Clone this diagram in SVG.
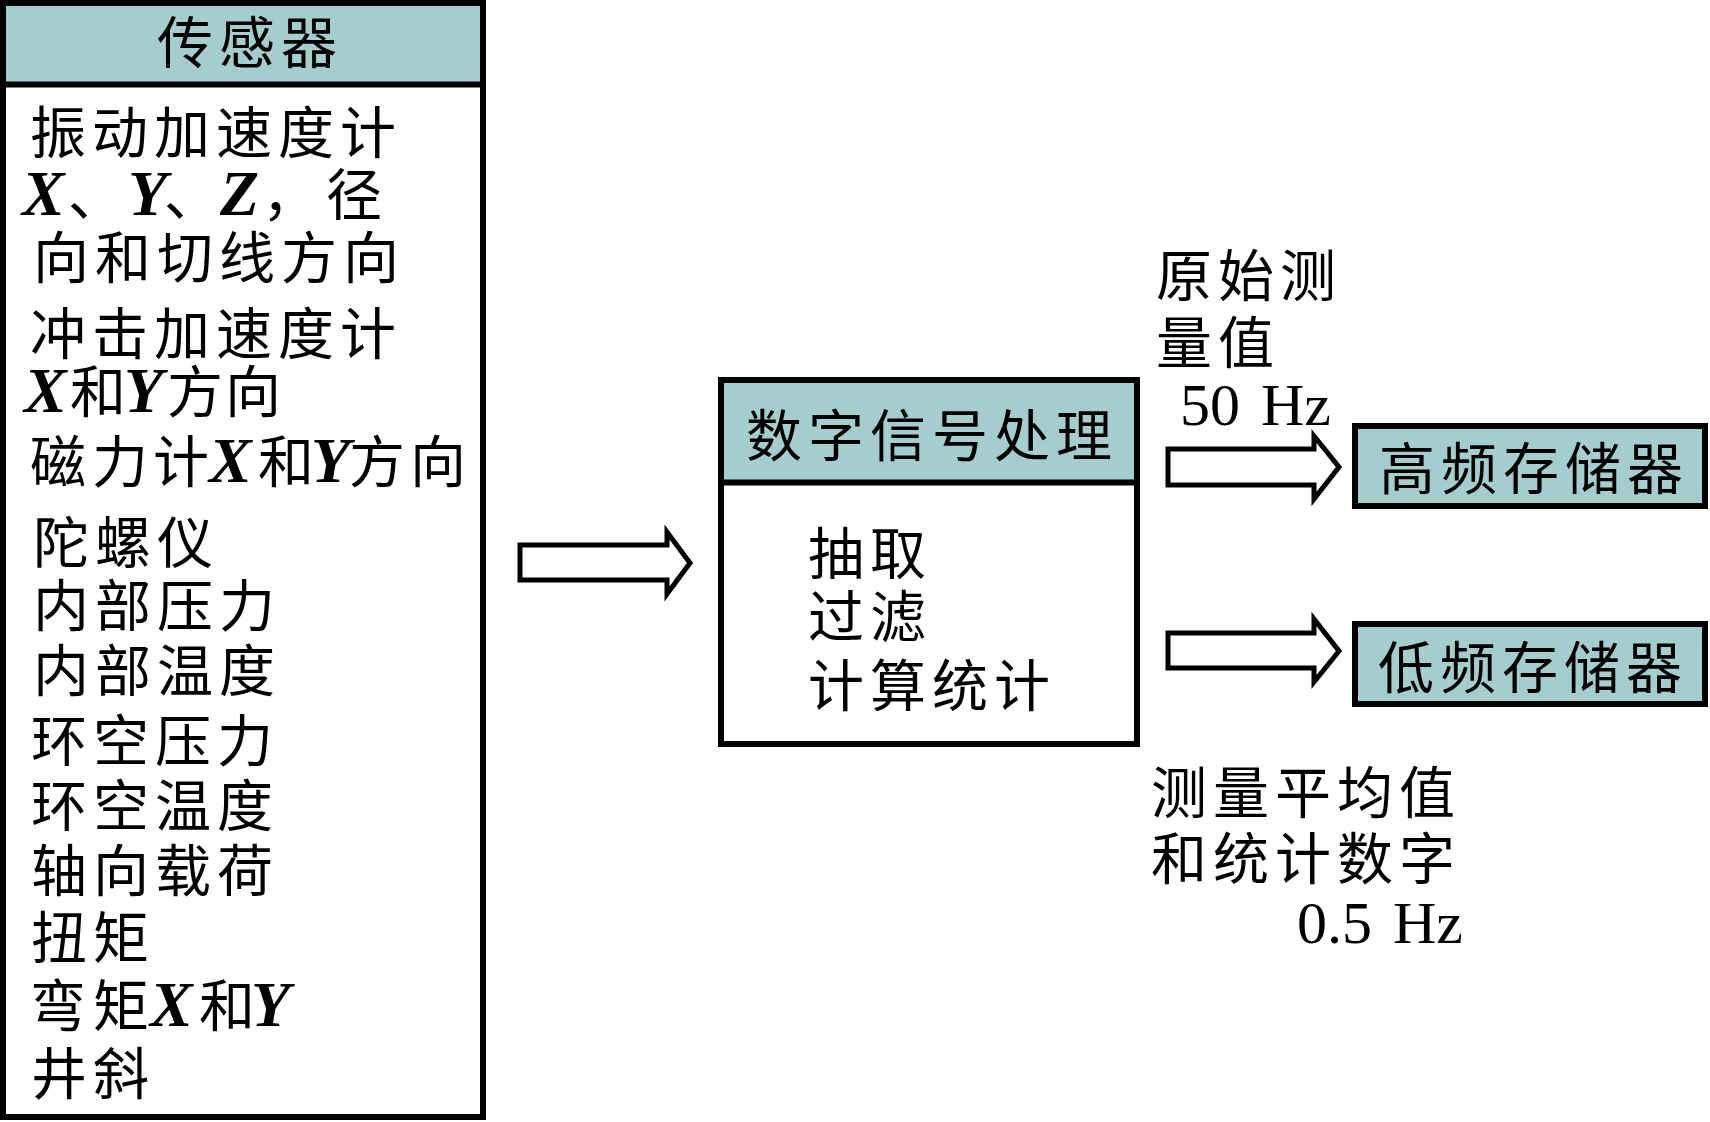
<svg xmlns="http://www.w3.org/2000/svg" width="1710" height="1122" viewBox="0 0 1710 1122">
<style>
.box{fill:none;stroke:#000;stroke-width:6}
.hdr{fill:#A6CDCD}
.sbox{fill:#A6CDCD;stroke:#000;stroke-width:6}
.div{stroke:#000;stroke-width:6}
.t{font-family:"Liberation Serif","Noto Sans CJK SC",serif;font-size:56px;fill:#000;letter-spacing:6px}
.i{font-family:"Liberation Serif",serif;font-style:italic;font-weight:bold;font-size:64px;letter-spacing:0px}
.n{font-family:"Liberation Serif",serif;font-size:60px;letter-spacing:0px;word-spacing:6px;fill:#000}
.arrow{fill:#fff;stroke:#000;stroke-width:5;stroke-linejoin:miter}
</style>
<rect width="1710" height="1122" fill="#fff"/>

<g id="node-sensor">
<rect class="hdr" x="3" y="3" width="480" height="81"/>
<line class="div" x1="3" y1="84.5" x2="483" y2="84.5"/>
<rect class="box" x="3" y="3" width="480" height="1114"/>
<text class="t" x="157" y="63">传感器</text>
<text class="t" x="30" y="153">振动加速度计</text>
<text class="t" y="215"><tspan class="i" x="22">X</tspan><tspan x="68">、</tspan><tspan class="i" x="128">Y</tspan><tspan x="164">、</tspan><tspan class="i" x="220">Z</tspan><tspan x="262">，</tspan><tspan x="326">径</tspan></text>
<text class="t" x="33" y="278">向和切线方向</text>
<text class="t" x="30" y="354">冲击加速度计</text>
<text class="t" y="412"><tspan class="i" x="24">X</tspan><tspan x="70">和</tspan><tspan class="i" x="124">Y</tspan><tspan x="167">方</tspan><tspan x="225">向</tspan></text>
<text class="t" y="482"><tspan x="30">磁</tspan><tspan x="92">力</tspan><tspan x="153">计</tspan><tspan class="i" x="209">X</tspan><tspan x="258">和</tspan><tspan class="i" x="311">Y</tspan><tspan x="349">方</tspan><tspan x="410">向</tspan></text>
<text class="t" x="33" y="563">陀螺仪</text>
<text class="t" x="33" y="626">内部压力</text>
<text class="t" x="33" y="691">内部温度</text>
<text class="t" x="31" y="761">环空压力</text>
<text class="t" x="31" y="826">环空温度</text>
<text class="t" x="31" y="891">轴向载荷</text>
<text class="t" x="31" y="958">扭矩</text>
<text class="t" y="1026"><tspan x="30">弯</tspan><tspan x="93">矩</tspan><tspan class="i" x="150">X</tspan><tspan x="199">和</tspan><tspan class="i" x="251">Y</tspan></text>
<text class="t" x="31" y="1094">井斜</text>
</g>

<g id="node-dsp">
<rect class="hdr" x="721" y="380" width="416" height="102"/>
<line class="div" x1="721" y1="482.5" x2="1137" y2="482.5"/>
<rect class="box" x="721" y="380" width="416" height="364"/>
<text class="t" x="746" y="456">数字信号处理</text>
<text class="t" x="808" y="574">抽取</text>
<text class="t" x="808" y="637">过滤</text>
<text class="t" x="808" y="706">计算统计</text>
</g>

<g id="node-hf">
<rect class="sbox" x="1355" y="426" width="350" height="80"/>
<text class="t" x="1379" y="489">高频存储器</text>
</g>

<g id="node-lf">
<rect class="sbox" x="1355" y="624" width="350" height="80"/>
<text class="t" x="1378" y="688">低频存储器</text>
</g>

<g id="connectors">
<path class="arrow" d="M520,545 H667 V532 L690,563 L667,594 V580 H520 Z"/>
<path class="arrow" d="M1168,449 H1314 V436 L1339,467 L1314,499 V485 H1168 Z"/>
<path class="arrow" d="M1168,633 H1314 V619 L1339,651 L1314,682 V668 H1168 Z"/>
</g>

<g id="labels">
<text class="t" x="1156" y="296">原始测</text>
<text class="t" x="1156" y="363">量值</text>
<text class="n" x="1180" y="425">50 Hz</text>
<text class="t" x="1151" y="813">测量平均值</text>
<text class="t" x="1151" y="879">和统计数字</text>
<text class="n" x="1297" y="943">0.5 Hz</text>
</g>
</svg>
